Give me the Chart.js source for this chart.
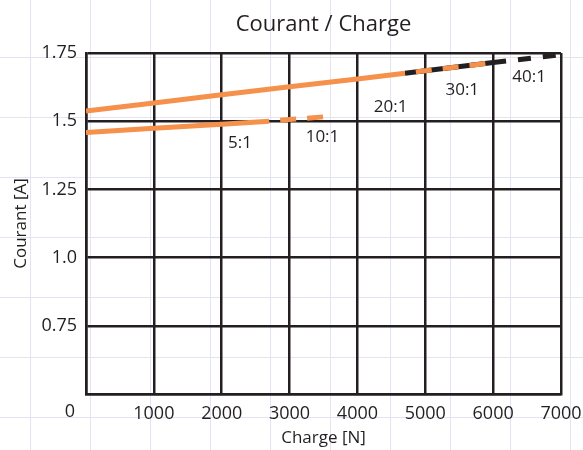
<!DOCTYPE html>
<html>
<head>
<meta charset="utf-8">
<script src="https://cdn.jsdelivr.net/npm/chart.js@4/dist/chart.umd.min.js"></script>
<style>
  html, body { margin: 0; padding: 0; }
  body {
    width: 583px; height: 450px; overflow: hidden;
    background-color: #fff;
    background-image:
      linear-gradient(to right, #e3e3f1 1px, transparent 1px),
      linear-gradient(to bottom, #e3e3f1 1px, transparent 1px);
    background-size: 60px 60px;
    background-position: 30px 57px;
  }
  #wrap { position: relative; width: 583px; height: 450px; }
</style>
</head>
<body>
<div id="wrap"><canvas id="myChart"></canvas></div>
<script>
// upper curve, orange (solid, then dashed over the black one)
var upperX = [0, 1000, 2000, 3000, 4000, 4700, 5000, 6000];
var upperY = [1.537, 1.567, 1.597, 1.626, 1.655, 1.676, 1.685, 1.715];
// upper curve, black continuation
var blackX = [4700, 5000, 6000, 7000];
var blackY = [1.676, 1.685, 1.715, 1.744];
// lower curve
var lowerX = [0, 1000, 2000, 2700, 3000, 3500];
var lowerY = [1.459, 1.474, 1.489, 1.500, 1.506, 1.516];

// ratio labels (text, charge, courant)
var ratioText = ['5:1', '10:1', '20:1', '30:1', '40:1'];
var ratioX = [2270, 3485, 4490, 5545, 6530];
var ratioY = [1.42, 1.44, 1.552, 1.615, 1.662];

var xTickLabels = ['0', '1000', '2000', '3000', '4000', '5000', '6000', '7000'];
var yTickValues = [0.5, 0.75, 1, 1.25, 1.5, 1.75];
var yTickLabels = ['', '0.75', '1.0', '1.25', '1.5', '1.75'];

var ink = '#231f20';
var orange = '#f5914a';
var fontFamily = "'Open Sans', sans-serif";

function toPoints(xs, ys) {
    var pts = [];
    for (var i = 0; i < xs.length; i++) pts.push({ x: xs[i], y: ys[i] });
    return pts;
}

var labelsPlugin = {
    id: 'ratioLabels',
    afterDatasetsDraw: function(chart) {
        var c = chart.ctx, xs = chart.scales.x, ys = chart.scales.y;
        c.save();
        c.fillStyle = ink;
        c.font = '17px ' + fontFamily;
        c.textAlign = 'center';
        c.textBaseline = 'middle';
        for (var i = 0; i < ratioText.length; i++) {
            c.fillText(ratioText[i], xs.getPixelForValue(ratioX[i]), ys.getPixelForValue(ratioY[i]));
        }
        // the "0" tick sits left of the axis
        c.font = '18px ' + fontFamily;
        c.textBaseline = 'top';
        c.fillText(xTickLabels[0], xs.getPixelForValue(0) - 16, ys.bottom + 9);
        c.restore();
    }
};

var ctx = document.getElementById('myChart').getContext('2d');

var myChart = new Chart(ctx, {
    type: 'line',
    data: {
        datasets: [{
            data: toPoints(upperX, upperY),
            borderColor: orange,
            borderWidth: 5,
            segment: {
                borderDash: function(s) { return s.p0.parsed.x >= 4700 ? [16, 11] : undefined; },
                borderDashOffset: function(s) { return s.p0.parsed.x >= 4700 ? 16 : 0; }
            }
        }, {
            data: toPoints(lowerX, lowerY),
            borderColor: orange,
            borderWidth: 5,
            segment: {
                borderDash: function(s) { return s.p0.parsed.x >= 2700 ? [16, 11] : undefined; },
                borderDashOffset: function(s) { return s.p0.parsed.x >= 2700 ? 16 : 0; }
            }
        }, {
            data: toPoints(blackX, blackY),
            borderColor: ink,
            borderWidth: 5,
            segment: {
                borderDash: function(s) { return s.p0.parsed.x >= 6000 ? [13, 12] : undefined; }
            }
        }]
    },
    options: {
        responsive: true,
        maintainAspectRatio: false,
        animation: false,
        elements: {
            point: { radius: 0 },
            line: { tension: 0, borderCapStyle: 'butt', fill: false }
        },
        layout: { padding: { left: 0, right: 22, top: 0, bottom: 0 } },
        plugins: {
            legend: { display: false },
            tooltip: { enabled: false },
            title: {
                display: true,
                text: 'Courant / Charge',
                fullSize: false,
                color: ink,
                font: { family: fontFamily, size: 22, weight: 'normal' },
                padding: { top: 12, bottom: 14.6 }
            }
        },
        scales: {
            x: {
                type: 'linear',
                min: 0,
                max: 7000,
                afterFit: function(s) { s.height = 56; s.paddingRight = 0; s.paddingLeft = 0; },
                grid: { color: ink, lineWidth: 2.5, drawTicks: false },
                border: { color: ink, width: 2.5 },
                ticks: {
                    stepSize: 1000,
                    padding: 9,
                    color: ink,
                    maxRotation: 0,
                    font: { family: fontFamily, size: 18 },
                    callback: function(v, i) { return i === 0 ? '' : xTickLabels[i]; }
                },
                title: {
                    display: true,
                    text: 'Charge [N]',
                    color: ink,
                    font: { family: fontFamily, size: 17 },
                    padding: { top: 0, bottom: 2 }
                }
            },
            y: {
                min: 0.5,
                max: 1.75,
                afterFit: function(s) { s.width = 86; },
                grid: { color: ink, lineWidth: 2.5, drawTicks: false },
                border: { color: ink, width: 2.5 },
                ticks: {
                    stepSize: 0.25,
                    padding: 9,
                    color: ink,
                    font: { family: fontFamily, size: 18 },
                    callback: function(v) {
                        var i = yTickValues.indexOf(v);
                        return i < 0 ? '' : yTickLabels[i];
                    }
                },
                title: {
                    display: true,
                    text: 'Courant [A]',
                    color: ink,
                    font: { family: fontFamily, size: 17 },
                    padding: { top: 11, bottom: 0 }
                }
            }
        }
    },
    plugins: [labelsPlugin]
});
</script>
</body>
</html>
